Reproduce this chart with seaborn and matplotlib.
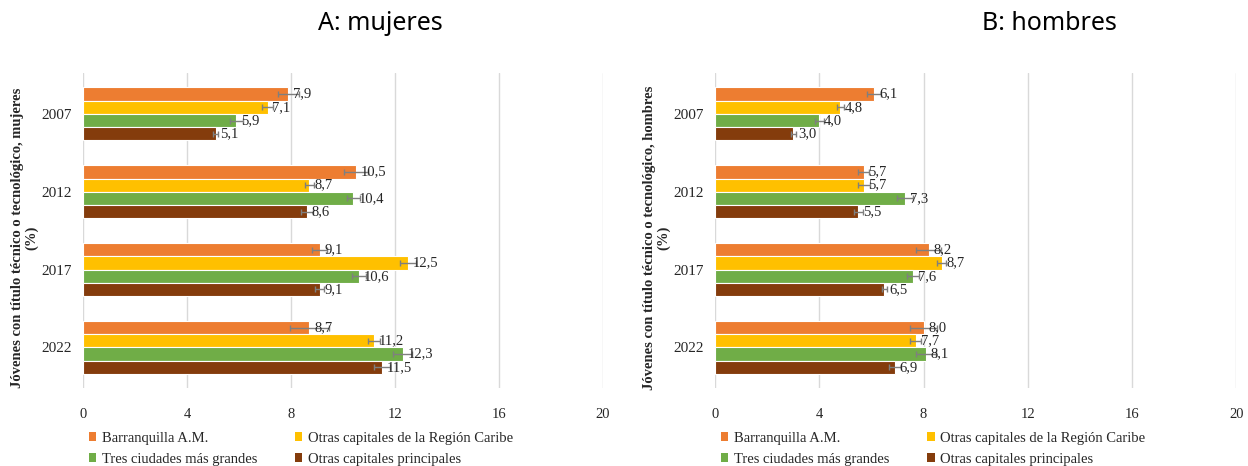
import matplotlib
matplotlib.use("Agg")
import numpy as np
import pandas as pd
import matplotlib.pyplot as plt
import seaborn as sns
from matplotlib.patches import Patch

# Data
years = ["2007", "2012", "2017", "2022"]
series = ["Barranquilla A.M.", "Otras capitales de la Región Caribe",
          "Tres ciudades más grandes", "Otras capitales principales"]
colors = ["#ED7D31", "#FFC000", "#70AD47", "#843C0C"]

mujeres_barranquilla = [7.9, 10.5, 9.1, 8.7]
mujeres_caribe = [7.1, 8.7, 12.5, 11.2]
mujeres_tres = [5.9, 10.4, 10.6, 12.3]
mujeres_principales = [5.1, 8.6, 9.1, 11.5]

mujeres_err_barranquilla = [0.40, 0.45, 0.30, 0.75]
mujeres_err_caribe = [0.20, 0.18, 0.30, 0.23]
mujeres_err_tres = [0.25, 0.25, 0.27, 0.37]
mujeres_err_principales = [0.10, 0.23, 0.17, 0.30]

hombres_barranquilla = [6.1, 5.7, 8.2, 8.0]
hombres_caribe = [4.8, 5.7, 8.7, 7.7]
hombres_tres = [4.0, 7.3, 7.6, 8.1]
hombres_principales = [3.0, 5.5, 6.5, 6.9]

hombres_err_barranquilla = [0.28, 0.22, 0.49, 0.53]
hombres_err_caribe = [0.14, 0.23, 0.18, 0.22]
hombres_err_tres = [0.18, 0.30, 0.24, 0.37]
hombres_err_principales = [0.10, 0.18, 0.10, 0.22]

x_ticks = [0, 4, 8, 12, 16, 20]

SERIF = "Liberation Serif"


def long_frame(vals, errs):
    rows = []
    for s, v_list, e_list in zip(series, vals, errs):
        for y, v, e in zip(years, v_list, e_list):
            rows.append({"year": y, "serie": s, "valor": v, "err": e})
    return pd.DataFrame(rows)


df_m = long_frame([mujeres_barranquilla, mujeres_caribe, mujeres_tres, mujeres_principales],
                  [mujeres_err_barranquilla, mujeres_err_caribe, mujeres_err_tres, mujeres_err_principales])
df_h = long_frame([hombres_barranquilla, hombres_caribe, hombres_tres, hombres_principales],
                  [hombres_err_barranquilla, hombres_err_caribe, hombres_err_tres, hombres_err_principales])

sns.set_theme(style="white")
plt.rcParams["font.family"] = [SERIF, "DejaVu Serif"]

fig = plt.figure(figsize=(12.48, 4.66), dpi=100)
ax_m = fig.add_axes([0.0665, 0.167, 0.4167, 0.676])
ax_h = fig.add_axes([0.573, 0.167, 0.4175, 0.676])


def draw_panel(ax, df, ylabel):
    sns.barplot(data=df, y="year", x="valor", hue="serie", order=years,
                hue_order=series, palette=colors, saturation=1, orient="h",
                width=0.68, errorbar=None, edgecolor="white", linewidth=0.8,
                legend=False, ax=ax, zorder=2)
    for cont, s in zip(ax.containers, series):
        sub = df[df["serie"] == s].set_index("year").loc[years]
        ys = [p.get_y() + p.get_height() / 2 for p in cont.patches]
        xs = [p.get_width() for p in cont.patches]
        ax.errorbar(xs, ys, xerr=sub["err"].values, fmt="none",
                    ecolor="#7f7f7f", elinewidth=1.0, capsize=2,
                    capthick=1.0, zorder=3)
        labels = [f"{v:.1f}".replace(".", ",") for v in sub["valor"].values]
        ax.bar_label(cont, labels=labels, padding=3.5, fontsize=10.5,
                     color="#262626", zorder=4)
    ax.set_xlim(0, 20)
    ax.set_xticks(x_ticks)
    ax.set_xticklabels([str(t) for t in x_ticks], fontsize=10.5)
    ax.tick_params(axis="y", labelsize=11, length=0, pad=8)
    ax.tick_params(axis="x", length=0, pad=14)
    ax.grid(axis="x", color="#d9d9d9", linewidth=1.0, zorder=0)
    ax.set_axisbelow(True)
    for sp in ax.spines.values():
        sp.set_visible(False)
    ax.set_xlabel("")
    ax.set_ylabel(ylabel, fontsize=10.5, fontweight="bold", linespacing=1.05)
    ax.yaxis.set_label_coords(-0.086, 0.476)

    order_idx = [0, 2, 1, 3]
    handles = [Patch(facecolor=colors[i], edgecolor="none") for i in order_idx]
    names = [series[i] for i in order_idx]
    ax.legend(handles, names, loc="upper left", bbox_to_anchor=(0.011, -0.138),
              ncol=2, frameon=False, fontsize=10.5, handlelength=0.5,
              handleheight=0.5, handletextpad=0.4, columnspacing=2.6,
              labelspacing=0.55, borderaxespad=0, borderpad=0)


draw_panel(ax_m, df_m, "Jóvenes con título técnico o tecnológico, mujeres\n(%)")
draw_panel(ax_h, df_h, "Jóvenes con título técnico o tecnológico, hombres\n(%)")

fig.text(0.305, 0.95, "A: mujeres", ha="center", va="center",
         fontsize=18, family="Noto Sans", color="#000000")
fig.text(0.841, 0.95, "B: hombres", ha="center", va="center",
         fontsize=18, family="Noto Sans", color="#000000")

fig.savefig("out.png", dpi=100, facecolor="white")
